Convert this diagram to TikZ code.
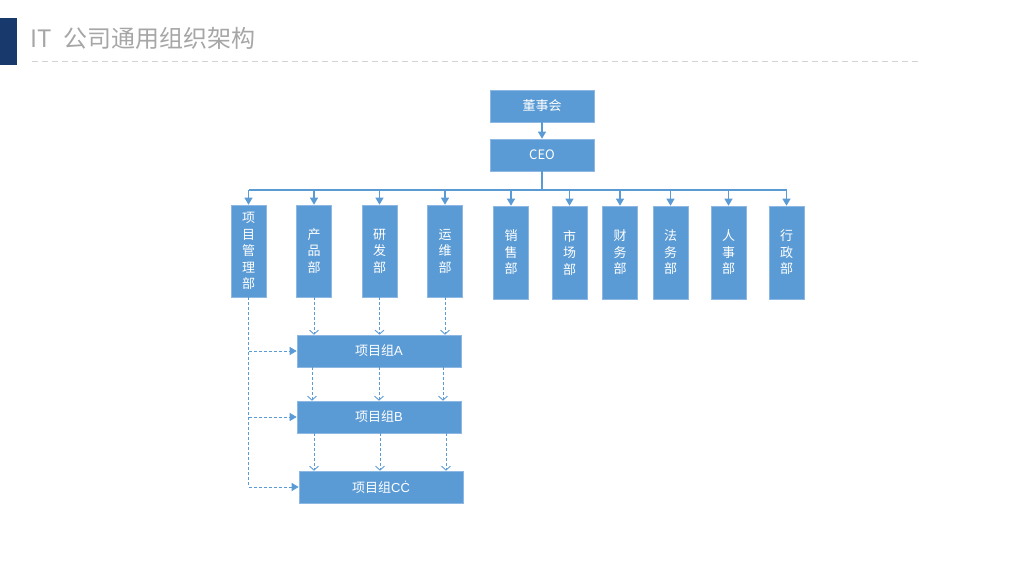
\documentclass[tikz,border=0pt]{standalone}
\usepackage{fontspec}
\setmainfont{Noto Sans CJK SC}
\newfontfamily\latinfont{Liberation Sans}
\usetikzlibrary{arrows.meta,calc}
\definecolor{boxblue}{HTML}{5B9BD5}
\definecolor{boxedge}{HTML}{8DB8E3}
\definecolor{linblue}{HTML}{5B9BD5}
\definecolor{barblue}{HTML}{17396B}
\definecolor{titlegray}{HTML}{A6A6A6}
\definecolor{rulegray}{HTML}{D3D3D3}
\tikzset{
  box/.style={rectangle,fill=boxblue,draw=boxedge,line width=0.6pt,text=white,
    font=\fontsize{13}{16.5}\selectfont,inner sep=0pt,align=center},
  hbox/.style={box,minimum width=104pt,minimum height=32pt},
  gbox/.style={box,minimum width=164pt,minimum height=32pt},
  vbox/.style={box,minimum width=35pt,minimum height=92pt},
  solidline/.style={draw=linblue,line width=1.1pt},
  tri/.style={-{Triangle[width=8pt,length=7pt]}},
  dashline/.style={draw=linblue,line width=1pt,dash pattern=on 3pt off 2pt},
  barb/.style={-{Straight Barb[width=9pt,length=4pt,line width=0.9pt]}},
}
\begin{document}
\begin{tikzpicture}[x=1pt,y=-1pt]
\useasboundingbox (0,0) rectangle (1024,576);
% header
\fill[barblue] (0,18) rectangle (17,65);
\node[anchor=west,text=titlegray,font=\fontsize{24}{26}\selectfont,inner sep=0pt] (title) at (30,38) {IT\hspace{12pt}公司通用组织架构};
\draw[rulegray,line width=1pt,dash pattern=on 6pt off 4pt] (32,61) -- (922,61);
% top
\node[hbox] (board) at (542,106) {董事会};
\node[hbox] (ceo) at (542,155) {CEO};
\draw[solidline,tri] (board) -- (ceo);
% departments
\node[vbox] (d1) at (248.5,251) {项\\目\\管\\理\\部};
\node[vbox] (d2) at (314,251) {产\\品\\部};
\node[vbox] (d3) at (379.5,251) {研\\发\\部};
\node[vbox] (d4) at (445,251) {运\\维\\部};
\node[vbox,minimum height=93pt] (d5) at (511,252.5) {销\\售\\部};
\node[vbox,minimum height=93pt] (d6) at (569.5,252.5) {市\\场\\部};
\node[vbox,minimum height=93pt] (d7) at (620,252.5) {财\\务\\部};
\node[vbox,minimum height=93pt] (d8) at (670.5,252.5) {法\\务\\部};
\node[vbox,minimum height=93pt] (d9) at (728.5,252.5) {人\\事\\部};
\node[vbox,minimum height=93pt] (d10) at (786.5,252.5) {行\\政\\部};
\coordinate (bus) at (542,190);
\draw[solidline] (ceo.south) -- (bus);
\draw[solidline] (d1 |- bus) -- (d10 |- bus);
\foreach \d in {d1,d2,d3,d4,d5,d6,d7,d8,d9,d10}
  \draw[solidline,tri] (\d |- bus) -- (\d.north);
% project groups
\node[gbox] (gA) at (379,351) {项目组{\latinfont A}};
\node[gbox] (gB) at (379,417) {项目组{\latinfont B}};
\node[gbox] (gC) at (381,487) {项目组{\latinfont CĊ}};
% dept to A
\foreach \d in {d2,d3,d4}
  \draw[dashline,barb] (\d.south) -- (\d.south |- gA.north);
% A to B
\foreach \x in {312,379,443}
  \draw[dashline,barb] (gA.south -| \x,0) -- (gB.north -| \x,0);
% B to C
\foreach \x in {314,380,446}
  \draw[dashline,barb] (gB.south -| \x,0) -- (gC.north -| \x,0);
% project management line
\coordinate (pmEnd) at (d1.south |- gC.west);
\draw[dashline] (d1.south) -- (pmEnd);
\draw[dashline,tri] (d1.south |- gA.west) -- (gA.west);
\draw[dashline,tri] (d1.south |- gB.west) -- (gB.west);
\draw[dashline,tri] (pmEnd) -- (gC.west);
\end{tikzpicture}
\end{document}
